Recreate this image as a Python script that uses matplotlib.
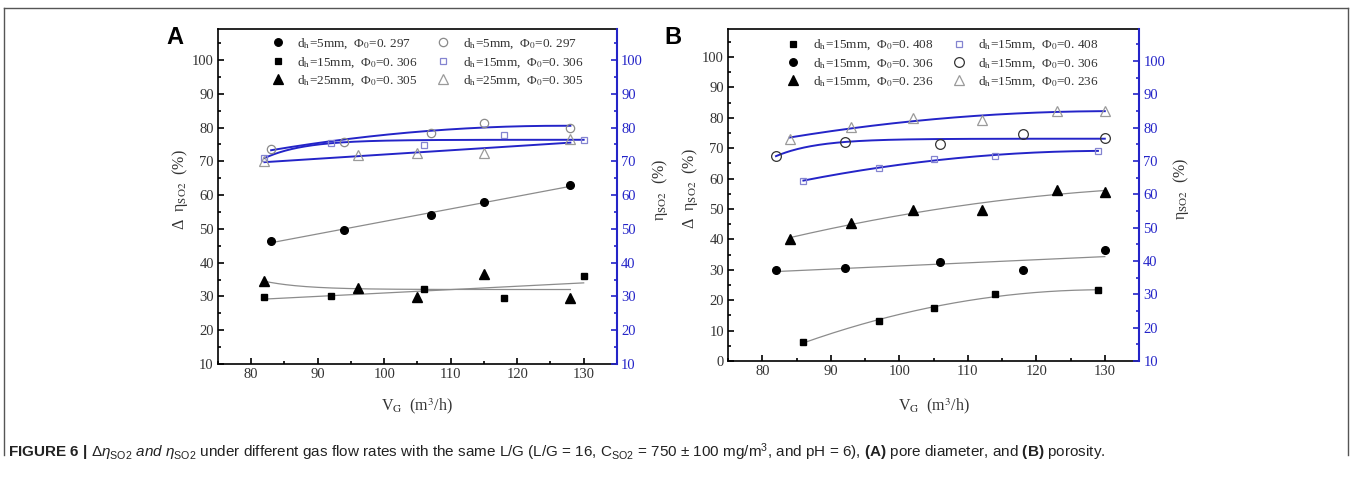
import numpy as np
import matplotlib
matplotlib.use('Agg')
import matplotlib.pyplot as plt
from matplotlib.font_manager import FontProperties
from matplotlib.ticker import MultipleLocator
from matplotlib.lines import Line2D

plt.rcParams['font.family'] = ['Liberation Serif', 'DejaVu Serif']
plt.rcParams['mathtext.fontset'] = 'stix'
# custom math fonts are only used by the caption
plt.rcParams['mathtext.rm'] = 'Liberation Sans'
plt.rcParams['mathtext.it'] = 'Liberation Sans:italic'
plt.rcParams['mathtext.bf'] = 'Liberation Sans:bold'

# ---- panel A : pore diameter ----
a_vg_5 = [83, 94, 107, 115, 128]
a_deta_5 = [46.5, 49.6, 54.1, 57.9, 63.0]
a_eta_5 = [73.8, 75.6, 78.5, 81.5, 80.0]
a_vg_15 = [82, 92, 106, 118, 130]
a_deta_15 = [29.7, 30.2, 32.3, 29.6, 36.1]
a_eta_15 = [71.0, 75.3, 74.9, 77.8, 76.4]
a_vg_25 = [82, 96, 105, 115, 128]
a_deta_25 = [34.5, 32.6, 29.9, 36.5, 29.5]
a_eta_25 = [70.0, 71.8, 72.6, 72.5, 76.5]
a_labels = [r'd$_\mathrm{h}$=5mm,  Φ$_0$=0. 297',
            r'd$_\mathrm{h}$=15mm,  Φ$_0$=0. 306',
            r'd$_\mathrm{h}$=25mm,  Φ$_0$=0. 305']

# ---- panel B : porosity ----
b_vg_408 = [86, 97, 105, 114, 129]
b_deta_408 = [6.2, 13.3, 17.3, 22.0, 23.2]
b_eta_408 = [64.1, 67.9, 70.5, 71.5, 73.1]
b_vg_306 = [82, 92, 106, 118, 130]
b_deta_306 = [29.9, 30.5, 32.5, 29.8, 36.5]
b_eta_306 = [71.5, 75.6, 75.1, 78.1, 76.8]
b_vg_236 = [84, 93, 102, 112, 123, 130]
b_deta_236 = [40.1, 45.5, 49.7, 49.8, 56.2, 55.7]
b_eta_236 = [76.6, 80.3, 82.8, 82.3, 85.0, 85.1]
b_labels = [r'd$_\mathrm{h}$=15mm,  Φ$_0$=0. 408',
            r'd$_\mathrm{h}$=15mm,  Φ$_0$=0. 306',
            r'd$_\mathrm{h}$=15mm,  Φ$_0$=0. 236']

BLUE = '#2424c8'
FITGRAY = '#8c8c8c'
TXT = '#333333'


def fit_curve(x, y, kind, tau=6.0):
    x = np.asarray(x, float)
    y = np.asarray(y, float)
    xs = np.linspace(x.min(), x.max(), 200)
    if kind == 'exp':
        A = np.column_stack([np.ones_like(x), np.exp(-(x - x.min()) / tau)])
        c = np.linalg.lstsq(A, y, rcond=None)[0]
        ys = c[0] + c[1] * np.exp(-(xs - x.min()) / tau)
    else:
        ys = np.polyval(np.polyfit(x, y, 1 if kind == 'lin' else 2), xs)
    return xs, ys


def setup_axes(ax, ax2, ylim_left, ylim_right, left_ticks, right_ticks,
               xlab_y, ylab_x, y2lab_x):
    ax.set_xlim(75, 135)
    ax.set_ylim(*ylim_left)
    ax2.set_ylim(*ylim_right)
    ax.xaxis.set_major_locator(MultipleLocator(10))
    ax.xaxis.set_minor_locator(MultipleLocator(5))
    ax.set_yticks(left_ticks)
    ax.yaxis.set_minor_locator(MultipleLocator(5))
    ax2.set_yticks(right_ticks)
    ax2.yaxis.set_minor_locator(MultipleLocator(5))
    ax.tick_params(which='both', direction='in', top=False, right=False,
                   labelsize=10.5, labelcolor=TXT, width=1.2, pad=3)
    ax.tick_params(which='major', length=4)
    ax.tick_params(which='minor', length=2.5)
    ax2.tick_params(axis='y', which='both', direction='in', colors=BLUE,
                    labelsize=10.5, width=1.2, pad=3)
    ax2.tick_params(which='major', length=4)
    ax2.tick_params(which='minor', length=2.5)
    for s in ['left', 'bottom', 'top']:
        ax.spines[s].set_linewidth(1.2)
        ax2.spines[s].set_visible(False)
    ax.spines['right'].set_visible(False)
    ax2.spines['right'].set_color(BLUE)
    ax2.spines['right'].set_linewidth(1.5)
    ax.set_xlabel(r'V$_\mathrm{G}$  (m$^3$/h)', fontsize=11.5, color=TXT)
    ax.xaxis.set_label_coords(0.5, xlab_y)
    ax.set_ylabel(r'Δ  η$_{\mathrm{SO2}}$  (%)', fontsize=11.5, color=TXT)
    ax2.set_ylabel(r'η$_{\mathrm{SO2}}$  (%)', fontsize=11.5, color=TXT,
                   rotation=90)
    ax.yaxis.set_label_coords(ylab_x, 0.52)
    ax2.yaxis.set_label_coords(y2lab_x, 0.52)


def draw_series(ax, x, y, fit, marker, ms, filled, color, tau=6.0):
    xs, ys = fit_curve(x, y, fit, tau)
    if filled:
        ax.plot(xs, ys, '-', color=FITGRAY, lw=0.9, zorder=2)
        ax.plot(x, y, linestyle='none', marker=marker, ms=ms, color='black', zorder=3)
    else:
        ax.plot(xs, ys, '-', color=BLUE, lw=1.4, zorder=2)
        ax.plot(x, y, linestyle='none', marker=marker, ms=ms, mfc='none',
                mec=color, mew=0.9, zorder=3)
    return Line2D([], [], linestyle='none', marker=marker, ms=ms,
                  mfc='black' if filled else 'none',
                  mec='black' if filled else color, mew=0.9)


fig = plt.figure(figsize=(13.52, 4.79), dpi=100)
legend_font = FontProperties(family='Liberation Serif', size=9.5, math_fontfamily='stix')
legend_kw = dict(ncol=2, loc='upper left', frameon=False, prop=legend_font,
                 handletextpad=0.9, columnspacing=1.3, labelspacing=0.3,
                 handlelength=1.2, labelcolor=TXT)

# panel A
axA = fig.add_axes([0.1612, 0.2401, 0.2951, 0.6994])
axA2 = axA.twinx()
setup_axes(axA, axA2, (10, 109.2), (10, 109.2), range(10, 101, 10), range(10, 101, 10),
           -0.095, -0.07, 1.083)
hA = [draw_series(axA, a_vg_5, a_deta_5, 'lin', 'o', 5.5, True, 'black'),
      draw_series(axA, a_vg_15, a_deta_15, 'lin', 's', 4.8, True, 'black'),
      draw_series(axA, a_vg_25, a_deta_25, 'exp', '^', 7, True, 'black'),
      draw_series(axA2, a_vg_5, a_eta_5, 'quad', 'o', 6, False, '#8a8a8a'),
      draw_series(axA2, a_vg_15, a_eta_15, 'exp', 's', 5, False, '#8484d0'),
      draw_series(axA2, a_vg_25, a_eta_25, 'lin', '^', 6.5, False, '#9a9a9a')]
axA.legend(hA, a_labels + a_labels, bbox_to_anchor=(0.100, 1.012), **legend_kw)

# panel B
axB = fig.add_axes([0.5385, 0.2463, 0.3040, 0.6932])
axB2 = axB.twinx()
setup_axes(axB, axB2, (0, 109.2), (10, 109.6), range(0, 101, 10), range(10, 101, 10),
           -0.105, -0.068, 1.078)
hB = [draw_series(axB, b_vg_408, b_deta_408, 'quad', 's', 4.8, True, 'black'),
      draw_series(axB, b_vg_306, b_deta_306, 'lin', 'o', 5.5, True, 'black'),
      draw_series(axB, b_vg_236, b_deta_236, 'quad', '^', 7, True, 'black'),
      draw_series(axB2, b_vg_408, b_eta_408, 'quad', 's', 5, False, '#8484d0'),
      draw_series(axB2, b_vg_306, b_eta_306, 'exp', 'o', 7, False, '#333333'),
      draw_series(axB2, b_vg_236, b_eta_236, 'quad', '^', 6.5, False, '#9a9a9a')]
axB.legend(hB, b_labels + b_labels, bbox_to_anchor=(0.110, 1.009), **legend_kw)

# panel letters
fig.text(175 / 1352, 1 - 37 / 479, 'A', fontsize=17, fontweight='bold',
         family='Liberation Sans', ha='center', va='center')
fig.text(673 / 1352, 1 - 37 / 479, 'B', fontsize=17, fontweight='bold',
         family='Liberation Sans', ha='center', va='center')

# figure frame
fig.add_artist(Line2D([4 / 1352, 1348 / 1352], [1 - 8 / 479, 1 - 8 / 479],
                      transform=fig.transFigure, color='#555555', lw=1))
for xf in [4 / 1352, 1348 / 1352]:
    fig.add_artist(Line2D([xf, xf], [1 - 8 / 479, 1 - 455 / 479],
                          transform=fig.transFigure, color='#555555', lw=1))

caption = (r'$\mathbf{FIGURE\ 6\ |}\ \mathit{\Delta\eta}_{\mathrm{SO2}}\ \mathit{and}\ '
           r'\mathit{\eta}_{\mathrm{SO2}}$ under different gas flow rates with the same L/G '
           r'(L/G = 16, C$_{\mathrm{SO2}}$ = 750 ± 100 mg/m$^3$, and pH = 6), '
           r'$\mathbf{(A)}$ pore diameter, and $\mathbf{(B)}$ porosity.')
fig.text(8 / 1352, 1 - 452 / 479, caption, fontsize=11, family='Liberation Sans',
         math_fontfamily='custom', ha='left', va='center', color='#222222')

fig.savefig('out.png', dpi=100)
